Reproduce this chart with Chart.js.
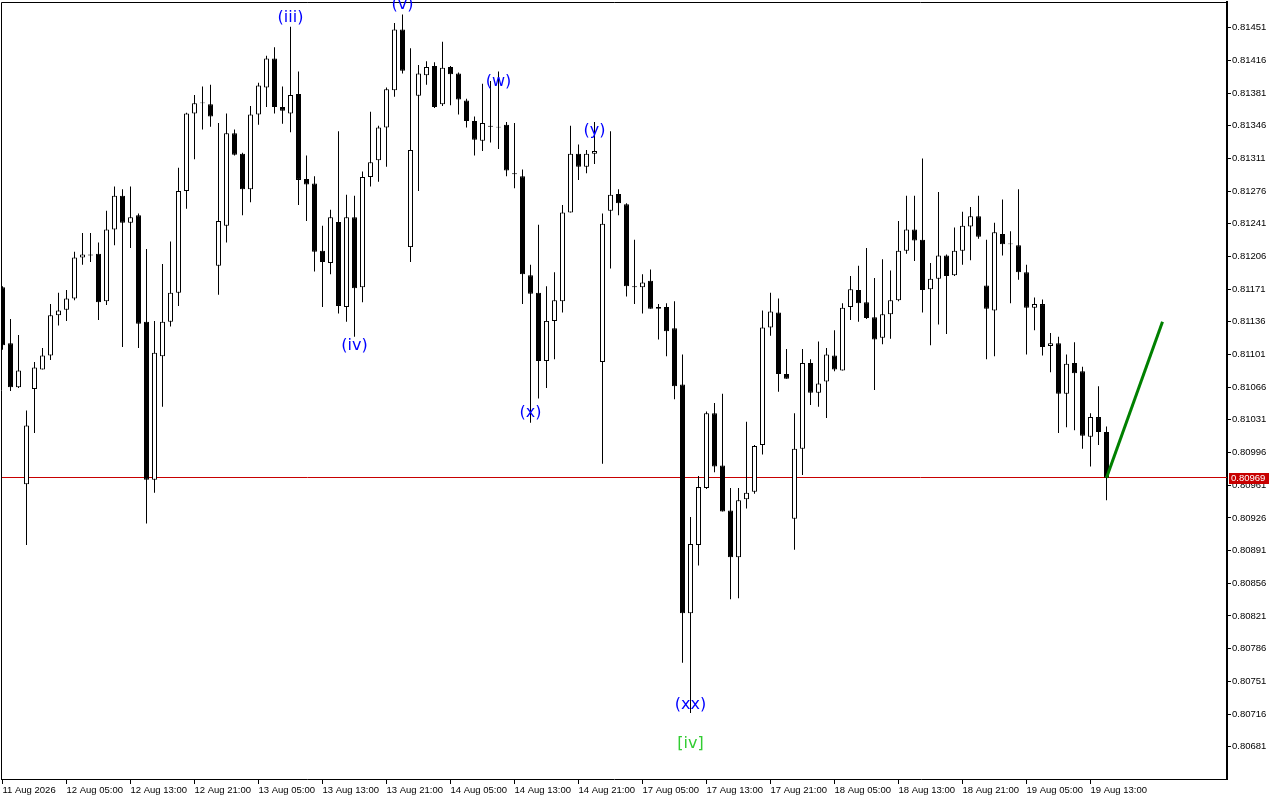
<!DOCTYPE html>
<html>
<head>
<meta charset="utf-8">
<title>Wave count H1</title>
<script src="https://cdn.jsdelivr.net/npm/chart.js@4.4.1/dist/chart.umd.min.js"></script>
<style>
  html, body { margin: 0; padding: 0; background: #fff; }
  canvas { display: block; }
</style>
</head>
<body>
<canvas id="waveChart" width="1280" height="800"></canvas>
<script>
// H1 candles, 11 Aug 21:00 .. 19 Aug 15:00
const opens = [
  0.81173, 0.81113, 0.81066, 0.80962, 0.81064, 0.81085, 0.81100, 0.81143, 0.81149, 0.81161,
  0.81205, 0.81207, 0.81209, 0.81158, 0.81235, 0.81271, 0.81242, 0.81250, 0.81136, 0.80967,
  0.81099, 0.81136, 0.81167, 0.81276, 0.81359, 0.81371, 0.81369, 0.81196, 0.81239, 0.81338,
  0.81316, 0.81278, 0.81358, 0.81387, 0.81418, 0.81366, 0.81359, 0.81380, 0.81289, 0.81284,
  0.81212, 0.81199, 0.81243, 0.81152, 0.81248, 0.81173, 0.81291, 0.81309, 0.81344, 0.81384,
  0.81449, 0.81216, 0.81378, 0.81400, 0.81410, 0.81369, 0.81409, 0.81402, 0.81373, 0.81351,
  0.81330, 0.81345, 0.81344, 0.81347, 0.81295, 0.81292, 0.81186, 0.81167, 0.81094, 0.81137,
  0.81158, 0.81253, 0.81316, 0.81302, 0.81316, 0.81093, 0.81255, 0.81273, 0.81262, 0.81174,
  0.81173, 0.81180, 0.81150, 0.81152, 0.81129, 0.81069, 0.80824, 0.80897, 0.80958, 0.81038,
  0.80982, 0.80934, 0.80884, 0.80946, 0.80954, 0.81004, 0.81130, 0.81146, 0.81080, 0.80925,
  0.81000, 0.81092, 0.81060, 0.81072, 0.81100, 0.81084, 0.81152, 0.81170, 0.81157, 0.81141,
  0.81119, 0.81144, 0.81159, 0.81212, 0.81235, 0.81224, 0.81171, 0.81182, 0.81207, 0.81186,
  0.81212, 0.81238, 0.81249, 0.81175, 0.81148, 0.81230, 0.81220, 0.81218, 0.81189, 0.81151,
  0.81155, 0.81110, 0.81113, 0.81059, 0.81092, 0.81083, 0.81013, 0.81034, 0.81018,
];
const highs = [
  0.81174, 0.81139, 0.81122, 0.81041, 0.81093, 0.81108, 0.81155, 0.81167, 0.81170, 0.81211,
  0.81231, 0.81231, 0.81221, 0.81255, 0.81281, 0.81278, 0.81281, 0.81252, 0.81214, 0.81137,
  0.81198, 0.81222, 0.81301, 0.81360, 0.81379, 0.81388, 0.81390, 0.81349, 0.81359, 0.81342,
  0.81317, 0.81367, 0.81392, 0.81421, 0.81430, 0.81388, 0.81452, 0.81404, 0.81314, 0.81292,
  0.81239, 0.81256, 0.81340, 0.81272, 0.81271, 0.81297, 0.81361, 0.81346, 0.81387, 0.81456,
  0.81465, 0.81429, 0.81411, 0.81415, 0.81414, 0.81436, 0.81410, 0.81403, 0.81375, 0.81356,
  0.81391, 0.81394, 0.81404, 0.81350, 0.81349, 0.81299, 0.81197, 0.81240, 0.81174, 0.81189,
  0.81261, 0.81346, 0.81326, 0.81320, 0.81350, 0.81252, 0.81340, 0.81278, 0.81263, 0.81224,
  0.81187, 0.81192, 0.81155, 0.81156, 0.81158, 0.81101, 0.80927, 0.80971, 0.81040, 0.81049,
  0.81059, 0.80958, 0.80958, 0.81029, 0.81004, 0.81148, 0.81167, 0.81161, 0.81107, 0.81038,
  0.81107, 0.81096, 0.81115, 0.81108, 0.81127, 0.81156, 0.81185, 0.81196, 0.81215, 0.81183,
  0.81203, 0.81191, 0.81244, 0.81271, 0.81271, 0.81311, 0.81199, 0.81275, 0.81208, 0.81237,
  0.81254, 0.81259, 0.81271, 0.81224, 0.81242, 0.81267, 0.81233, 0.81278, 0.81197, 0.81162,
  0.81160, 0.81124, 0.81120, 0.81101, 0.81114, 0.81088, 0.81038, 0.81067, 0.81024,
];
const lows = [
  0.81106, 0.81062, 0.81065, 0.80897, 0.81017, 0.81085, 0.81095, 0.81132, 0.81137, 0.81159,
  0.81197, 0.81200, 0.81138, 0.81154, 0.81218, 0.81109, 0.81215, 0.81108, 0.80920, 0.80953,
  0.81045, 0.81131, 0.81153, 0.81257, 0.81310, 0.81342, 0.81345, 0.81165, 0.81221, 0.81314,
  0.81250, 0.81264, 0.81347, 0.81366, 0.81359, 0.81348, 0.81339, 0.81261, 0.81244, 0.81190,
  0.81152, 0.81187, 0.81145, 0.81136, 0.81120, 0.81157, 0.81281, 0.81286, 0.81302, 0.81377,
  0.81402, 0.81200, 0.81276, 0.81390, 0.81365, 0.81367, 0.81368, 0.81358, 0.81344, 0.81314,
  0.81319, 0.81328, 0.81321, 0.81292, 0.81279, 0.81155, 0.81028, 0.81054, 0.81065, 0.81096,
  0.81146, 0.81253, 0.81288, 0.81295, 0.81305, 0.80984, 0.81193, 0.81250, 0.81163, 0.81155,
  0.81145, 0.81150, 0.81117, 0.81099, 0.81053, 0.80771, 0.80717, 0.80875, 0.80957, 0.80975,
  0.80933, 0.80839, 0.80840, 0.80936, 0.80952, 0.80994, 0.81121, 0.81061, 0.81075, 0.80892,
  0.80972, 0.81047, 0.81045, 0.81033, 0.81083, 0.81084, 0.81138, 0.81136, 0.81139, 0.81063,
  0.81112, 0.81118, 0.81158, 0.81209, 0.81201, 0.81146, 0.81111, 0.81133, 0.81123, 0.81185,
  0.81197, 0.81202, 0.81225, 0.81096, 0.81099, 0.81207, 0.81156, 0.81181, 0.81101, 0.81127,
  0.81100, 0.81082, 0.81017, 0.81023, 0.81020, 0.81000, 0.80981, 0.81004, 0.80945,
];
const closes = [
  0.81111, 0.81066, 0.81084, 0.81025, 0.81087, 0.81100, 0.81143, 0.81148, 0.81161, 0.81205,
  0.81208, 0.81208, 0.81157, 0.81235, 0.81271, 0.81242, 0.81248, 0.81134, 0.80967, 0.81103,
  0.81136, 0.81167, 0.81276, 0.81359, 0.81370, 0.81370, 0.81356, 0.81244, 0.81338, 0.81315,
  0.81278, 0.81358, 0.81389, 0.81418, 0.81366, 0.81362, 0.81379, 0.81288, 0.81283, 0.81211,
  0.81200, 0.81248, 0.81153, 0.81248, 0.81172, 0.81291, 0.81307, 0.81344, 0.81385, 0.81449,
  0.81405, 0.81320, 0.81402, 0.81409, 0.81366, 0.81408, 0.81401, 0.81374, 0.81351, 0.81331,
  0.81349, 0.81346, 0.81345, 0.81298, 0.81294, 0.81187, 0.81166, 0.81094, 0.81137, 0.81159,
  0.81253, 0.81316, 0.81302, 0.81316, 0.81319, 0.81241, 0.81272, 0.81263, 0.81174, 0.81173,
  0.81178, 0.81150, 0.81152, 0.81126, 0.81067, 0.80824, 0.80898, 0.80959, 0.81038, 0.80981,
  0.80933, 0.80884, 0.80945, 0.80953, 0.81003, 0.81130, 0.81147, 0.81080, 0.81075, 0.81000,
  0.81092, 0.81060, 0.81070, 0.81101, 0.81085, 0.81151, 0.81171, 0.81156, 0.81140, 0.81117,
  0.81144, 0.81159, 0.81212, 0.81235, 0.81223, 0.81170, 0.81182, 0.81207, 0.81185, 0.81212,
  0.81239, 0.81249, 0.81227, 0.81150, 0.81232, 0.81219, 0.81219, 0.81189, 0.81151, 0.81155,
  0.81109, 0.81113, 0.81059, 0.81091, 0.81081, 0.81014, 0.81034, 0.81018, 0.80969,
];

// price scale labels (right side)
const priceTicks = [
  0.81451, 0.81416, 0.81381, 0.81346, 0.81311, 0.81276, 0.81241, 0.81206,
  0.81171, 0.81136, 0.81101, 0.81066, 0.81031, 0.80996, 0.80961, 0.80926,
  0.80891, 0.80856, 0.80821, 0.80786, 0.80751, 0.80716, 0.80681,
];

// time scale labels, one every 8 bars
const timeTickIdx = [0, 8, 16, 24, 32, 40, 48, 56, 64, 72, 80, 88, 96, 104, 112, 120, 128, 136];
const timeLabels = [
  '11 Aug 2026', '12 Aug 05:00', '12 Aug 13:00', '12 Aug 21:00', '13 Aug 05:00', '13 Aug 13:00',
  '13 Aug 21:00', '14 Aug 05:00', '14 Aug 13:00', '14 Aug 21:00', '17 Aug 05:00', '17 Aug 13:00',
  '17 Aug 21:00', '18 Aug 05:00', '18 Aug 13:00', '18 Aug 21:00', '19 Aug 05:00', '19 Aug 13:00',
];

// wave marks
const waveText = ['(iii)', '(v)', '(w)', '(y)', '(iv)', '(x)', '(xx)', '[iv]'];
const waveIdx = [36, 50, 62, 74, 44, 66, 86, 86];
const wavePrice = [0.81462, 0.81475, 0.81393, 0.81340, 0.81110, 0.81038, 0.80726, 0.80684];

// projected move
const projIdx = [138, 145];
const projPrice = [0.80969, 0.81136];

(function () {
  const canvas = document.getElementById('waveChart');
  const idx = opens.map((_, i) => i);
  const lastClose = closes[closes.length - 1];
  const labelFont = { family: 'Liberation Sans', size: 9.5 };

  const wickData = idx.map((i) => ({ x: i, y: [lows[i], highs[i]] }));
  const bodyData = idx.map((i) => ({
    x: i,
    y: [Math.min(opens[i], closes[i]), Math.max(opens[i], closes[i])],
  }));
  const bodyFill = idx.map((i) => (closes[i] >= opens[i] ? '#ffffff' : '#000000'));
  const projData = projIdx.map((x, i) => ({ x, y: projPrice[i] }));

  // scales should not reserve room for half labels at their ends
  function noEdgePadding(scale) {
    scale.paddingTop = 0;
    scale.paddingBottom = 0;
    scale.paddingLeft = 0;
    scale.paddingRight = 0;
  }

  const overlay = {
    id: 'overlay',
    beforeDatasetsDraw(chart) {
      const { ctx, chartArea, scales } = chart;
      const y = Math.floor(scales.y.getPixelForValue(lastClose)) + 0.5;
      ctx.save();
      ctx.strokeStyle = '#c80000';
      ctx.lineWidth = 1;
      ctx.beginPath();
      ctx.moveTo(chartArea.left, y);
      ctx.lineTo(chartArea.right, y);
      ctx.stroke();
      ctx.restore();
    },
    afterDraw(chart) {
      const { ctx, chartArea, scales } = chart;
      ctx.save();
      // frame, top and left
      ctx.strokeStyle = '#000';
      ctx.lineWidth = 1;
      ctx.beginPath();
      ctx.moveTo(chartArea.left + 0.5, chartArea.bottom);
      ctx.lineTo(chartArea.left + 0.5, chartArea.top + 0.5);
      ctx.lineTo(chartArea.right, chartArea.top + 0.5);
      ctx.stroke();

      ctx.font = '16px "DejaVu Sans"';
      ctx.textAlign = 'center';
      ctx.textBaseline = 'middle';
      waveText.forEach((t, i) => {
        ctx.fillStyle = t.startsWith('[') ? '#32cd32' : '#0000ff';
        ctx.fillText(t, scales.x.getPixelForValue(waveIdx[i]), scales.y.getPixelForValue(wavePrice[i]));
      });

      // last price tag
      const py = scales.y.getPixelForValue(lastClose);
      ctx.fillStyle = '#c80000';
      ctx.fillRect(scales.y.left + 2, Math.round(py) - 5, 40, 11);
      ctx.fillStyle = '#ffffff';
      ctx.font = '9.5px "Liberation Sans"';
      ctx.textAlign = 'left';
      ctx.fillText(lastClose.toFixed(5), scales.y.left + 4, py + 0.5);
      ctx.restore();
    },
  };

  new Chart(canvas.getContext('2d'), {
    type: 'bar',
    data: {
      datasets: [
        {
          type: 'line',
          data: projData,
          borderColor: '#008000',
          borderWidth: 3,
          pointRadius: 0,
          order: 0,
        },
        {
          data: bodyData,
          backgroundColor: bodyFill,
          borderColor: '#000000',
          borderWidth: 1,
          borderSkipped: false,
          barThickness: 5,
          inflateAmount: 0,
          grouped: false,
          order: 1,
        },
        {
          data: wickData,
          backgroundColor: '#000000',
          borderWidth: 0,
          barThickness: 1,
          inflateAmount: 0,
          grouped: false,
          order: 2,
        },
      ],
    },
    options: {
      responsive: false,
      animation: false,
      devicePixelRatio: 1,
      layout: { padding: { left: 1, top: 2, right: 0, bottom: 0 } },
      plugins: { legend: { display: false }, tooltip: { enabled: false } },
      scales: {
        x: {
          type: 'linear',
          min: -0.1875,
          max: 153.0625,
          offset: false,
          grid: { offset: false, drawOnChartArea: false, tickLength: 5, color: '#000', tickColor: '#000' },
          border: { display: true, color: '#000', width: 1 },
          afterBuildTicks: (scale) => { scale.ticks = timeTickIdx.map((v) => ({ value: v })); },
          afterFit: (scale) => { scale.height = 21; noEdgePadding(scale); },
          ticks: {
            autoSkip: false,
            maxRotation: 0,
            align: 'start',
            padding: 1,
            color: '#000',
            font: labelFont,
            callback: (v, i) => timeLabels[i],
          },
        },
        y: {
          position: 'right',
          min: 0.806464,
          max: 0.814785,
          grid: { drawOnChartArea: false, tickLength: 4, color: '#000', tickColor: '#000' },
          border: { display: true, color: '#000', width: 2 },
          afterBuildTicks: (scale) => { scale.ticks = priceTicks.map((v) => ({ value: v })); },
          afterFit: (scale) => { scale.width = 53; noEdgePadding(scale); },
          ticks: {
            padding: 1,
            color: '#000',
            font: labelFont,
            callback: (v) => v.toFixed(5),
          },
        },
      },
    },
    plugins: [overlay],
  });
})();
</script>
</body>
</html>
